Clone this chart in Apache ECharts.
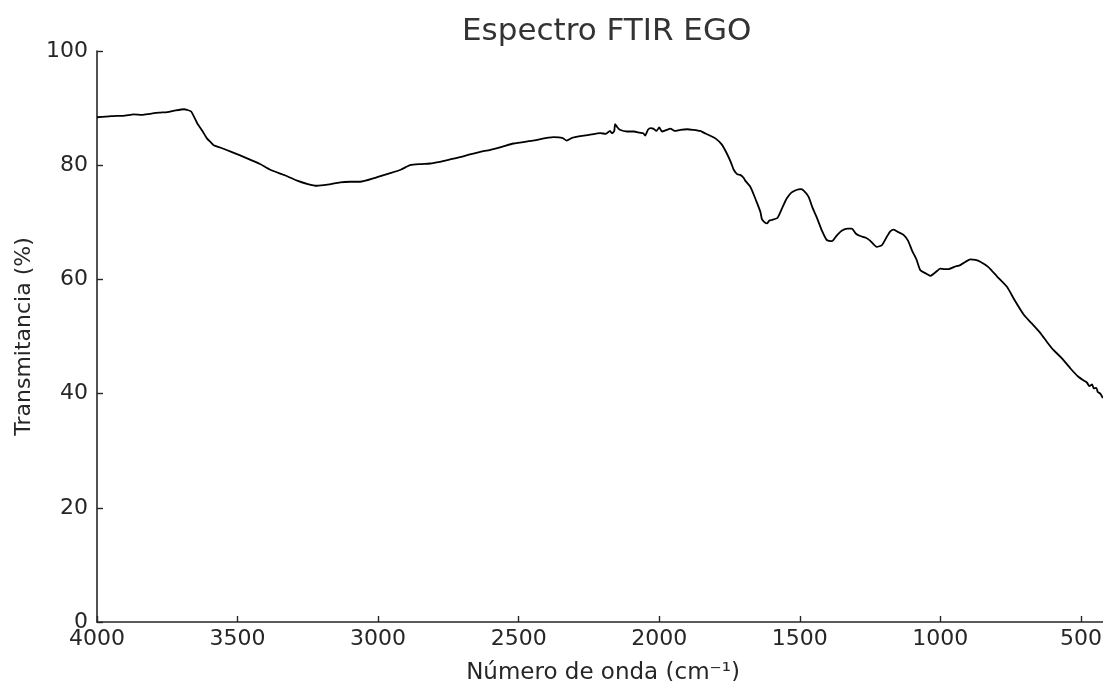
<!DOCTYPE html>
<html>
<head>
<meta charset="utf-8">
<script src="https://cdn.jsdelivr.net/npm/echarts@6/dist/echarts.min.js"></script>
<style>html,body{margin:0;padding:0;background:#fff;overflow:hidden}#c{width:1103px;height:681px}</style>
</head>
<body>
<div id="c"></div>
<script>
const titleText = "Espectro FTIR EGO";
const xName = "Número de onda (cm⁻¹)";
const yName = "Transmitancia (%)";
const xTicks = [4000, 3500, 3000, 2500, 2000, 1500, 1000, 500];
const yTicks = [0, 20, 40, 60, 80, 100];
const wavenumber = [4000, 3950, 3900, 3870, 3840, 3811, 3780, 3750, 3720, 3690, 3680, 3665, 3644, 3625, 3609, 3595, 3585, 3562, 3520, 3466, 3420, 3384, 3330, 3288, 3250, 3218, 3180, 3135, 3100, 3064, 3010, 2957, 2920, 2886, 2850, 2815, 2780, 2744, 2700, 2673, 2640, 2601, 2560, 2519, 2450, 2376, 2345, 2329, 2310, 2281, 2250, 2210, 2190, 2175, 2168, 2160, 2157, 2150, 2140, 2115, 2090, 2070, 2057, 2050, 2040, 2030, 2021, 2010, 2000, 1990, 1973, 1960, 1945, 1925, 1900, 1880, 1854, 1842, 1820, 1800, 1777, 1759, 1745, 1735, 1722, 1712, 1700, 1694, 1677, 1665, 1653, 1640, 1635, 1625, 1617, 1608, 1599, 1579, 1560, 1546, 1530, 1510, 1497, 1487, 1469, 1455, 1440, 1420, 1404, 1386, 1370, 1351, 1330, 1315, 1300, 1285, 1265, 1250, 1226, 1208, 1190, 1178, 1166, 1150, 1131, 1115, 1101, 1085, 1071, 1050, 1036, 1018, 1000, 985, 971, 950, 929, 910, 893, 875, 858, 830, 798, 763, 735, 703, 675, 644, 620, 597, 570, 537, 510, 490, 478, 470, 460, 454, 445, 440, 431, 426, 422];
const transmittance = [88.4, 88.6, 88.7, 88.9, 88.8, 89.0, 89.2, 89.3, 89.6, 89.8, 89.7, 89.4, 87.4, 86.0, 84.7, 84.0, 83.5, 83.1, 82.3, 81.2, 80.2, 79.2, 78.2, 77.3, 76.7, 76.4, 76.6, 77.0, 77.1, 77.1, 77.8, 78.6, 79.2, 80.0, 80.2, 80.3, 80.6, 81.0, 81.5, 81.9, 82.3, 82.7, 83.2, 83.8, 84.3, 84.9, 84.8, 84.3, 84.8, 85.1, 85.3, 85.6, 85.5, 86.0, 85.6, 86.0, 87.2, 86.7, 86.2, 85.9, 85.9, 85.7, 85.6, 85.2, 86.2, 86.5, 86.4, 86.0, 86.6, 85.9, 86.2, 86.4, 86.0, 86.2, 86.3, 86.2, 86.0, 85.7, 85.2, 84.7, 83.6, 82.0, 80.5, 79.2, 78.4, 78.3, 77.8, 77.3, 76.3, 75.0, 73.5, 71.8, 70.6, 70.0, 69.8, 70.3, 70.4, 70.8, 72.8, 74.2, 75.2, 75.7, 75.8, 75.6, 74.5, 72.6, 70.9, 68.4, 66.9, 66.7, 67.6, 68.5, 68.9, 68.9, 68.0, 67.6, 67.3, 66.8, 65.7, 66.0, 67.5, 68.4, 68.7, 68.3, 67.8, 66.8, 65.1, 63.5, 61.6, 61.0, 60.6, 61.2, 61.9, 61.8, 61.8, 62.2, 62.5, 63.1, 63.5, 63.4, 63.1, 62.2, 60.5, 58.7, 56.3, 53.8, 52.3, 50.6, 49.0, 47.6, 46.3, 44.4, 43.0, 42.3, 41.9, 41.3, 41.6, 40.9, 41.0, 40.3, 40.0, 39.6, 39.2];
const data = wavenumber.map((w, i) => [w, transmittance[i]]);
const textColor = '#262626';
const chart = echarts.init(document.getElementById('c'), null, {renderer: 'canvas'});
chart.setOption({
  animation: false,
  backgroundColor: '#ffffff',
  title: {
    text: titleText, left: 457, top: 11,
    textStyle: {fontFamily: 'DejaVu Sans', fontSize: 31, fontWeight: 'normal', color: '#333333'}
  },
  grid: {left: 97, right: -6, top: 51, bottom: 59, containLabel: false, outerBoundsMode: 'none'},
  xAxis: {
    type: 'value', inverse: true, min: 400, max: 4000,
    name: xName, nameLocation: 'middle', nameGap: 40,
    nameTextStyle: {fontFamily: 'DejaVu Sans', fontSize: 23, color: textColor},
    axisLine: {show: true, onZero: false, lineStyle: {color: '#262626', width: 1.6}},
    axisTick: {show: true, inside: true, length: 6, customValues: xTicks, lineStyle: {color: '#262626', width: 1.4}},
    axisLabel: {customValues: xTicks, margin: 6, fontFamily: 'DejaVu Sans', fontSize: 22, color: textColor,
      formatter: v => String(v)},
    splitLine: {show: false}
  },
  yAxis: {
    type: 'value', min: 0, max: 100, interval: 20,
    name: yName, nameLocation: 'middle', nameGap: 62,
    nameTextStyle: {fontFamily: 'DejaVu Sans', fontSize: 22, color: textColor},
    axisLine: {show: true, lineStyle: {color: '#262626', width: 1.6}},
    axisTick: {show: true, inside: true, length: 6, lineStyle: {color: '#262626', width: 1.4}},
    axisLabel: {margin: 9, fontFamily: 'DejaVu Sans', fontSize: 22, color: textColor, formatter: v => String(v)},
    splitLine: {show: false}
  },
  series: [{
    type: 'line', data: data, showSymbol: false, smooth: 0.2,
    lineStyle: {color: '#000000', width: 1.8}, clip: true
  }]
});
</script>
</body>
</html>
